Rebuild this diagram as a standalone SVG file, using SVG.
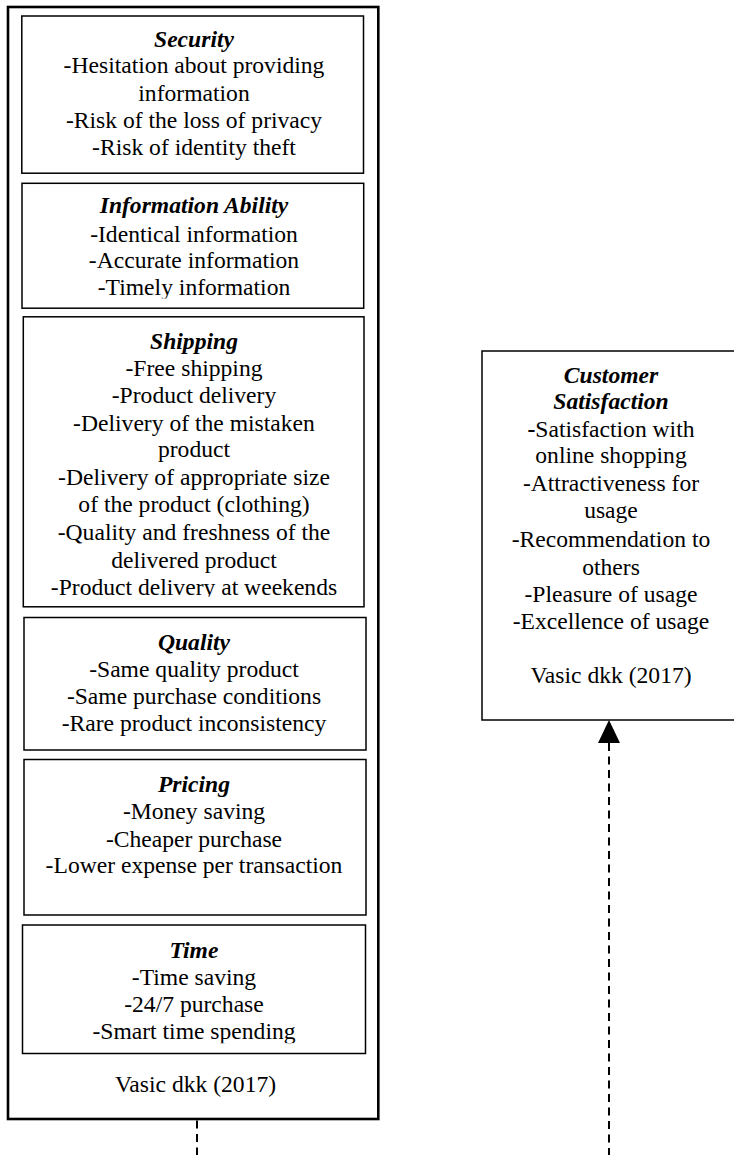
<svg xmlns="http://www.w3.org/2000/svg" width="734" height="1155" viewBox="0 0 734 1155">
  <style>
    .box { fill: #ffffff; stroke: #000000; stroke-width: 1.5; }
    .outer { fill: #ffffff; stroke: #000000; stroke-width: 2.6; }
    text { font-family: "Liberation Serif", "Times New Roman", serif; font-size: 23.6px; fill: #000000; text-anchor: middle; }
    .h { font-weight: bold; font-style: italic; }
    .conn { fill: none; stroke: #000000; stroke-width: 2; stroke-dasharray: 8 5.5; }
  </style>
  <defs>
    <marker id="arrow" markerUnits="userSpaceOnUse" markerWidth="23" markerHeight="22" viewBox="0 0 23 22" refX="0" refY="11" orient="auto-start-reverse">
      <path d="M0,0 L23,11 L0,22 z" fill="#000000"/>
    </marker>
    <clipPath id="clipInfo"><rect x="0" y="0" width="734" height="298.5"/></clipPath>
    <clipPath id="clipShip"><rect x="0" y="0" width="734" height="596.8"/></clipPath>
    <clipPath id="clipTime"><rect x="0" y="0" width="734" height="1043.3"/></clipPath>
  </defs>

  <g id="determinants">
    <rect class="outer" x="8" y="7" width="370.3" height="1112"/>
    <text x="195.5" y="1091.7">Vasic dkk (2017)</text>
  </g>

  <g id="security">
    <rect class="box" x="21.8" y="16" width="341.7" height="157.2"/>
    <text class="h" x="194" y="46.7">Security</text>
    <text x="194" y="73">-Hesitation about providing</text>
    <text x="194" y="100.5">information</text>
    <text x="194" y="127.7">-Risk of the loss of privacy</text>
    <text x="194" y="155">-Risk of identity theft</text>
  </g>

  <g id="information-ability">
    <rect class="box" x="22" y="183.3" width="341.7" height="124.9"/>
    <text class="h" x="194" y="213.3">Information Ability</text>
    <text x="194" y="241.5">-Identical information</text>
    <text x="194" y="268.3">-Accurate information</text>
    <text x="194" y="295" clip-path="url(#clipInfo)">-Timely information</text>
  </g>

  <g id="shipping">
    <rect class="box" x="23.3" y="316.8" width="340.7" height="290"/>
    <text class="h" x="194" y="349.3">Shipping</text>
    <text x="194" y="376">-Free shipping</text>
    <text x="194" y="403.3">-Product delivery</text>
    <text x="194" y="431">-Delivery of the mistaken</text>
    <text x="194" y="457.3">product</text>
    <text x="194" y="485">-Delivery of appropriate size</text>
    <text x="194" y="512.3">of the product (clothing)</text>
    <text x="194" y="540">-Quality and freshness of the</text>
    <text x="194" y="567.7">delivered product</text>
    <text x="194" y="595" clip-path="url(#clipShip)">-Product delivery at weekends</text>
  </g>

  <g id="quality">
    <rect class="box" x="24" y="617.5" width="342" height="132.5"/>
    <text class="h" x="194" y="650">Quality</text>
    <text x="194" y="677.3">-Same quality product</text>
    <text x="194" y="704.3">-Same purchase conditions</text>
    <text x="194" y="731">-Rare product inconsistency</text>
  </g>

  <g id="pricing">
    <rect class="box" x="24" y="759.5" width="342" height="155.5"/>
    <text class="h" x="194" y="792.3">Pricing</text>
    <text x="194" y="819">-Money saving</text>
    <text x="194" y="846.7">-Cheaper purchase</text>
    <text x="194" y="873.3">-Lower expense per transaction</text>
  </g>

  <g id="time">
    <rect class="box" x="22.5" y="925" width="343" height="128.5"/>
    <text class="h" x="194" y="957.7">Time</text>
    <text x="194" y="985">-Time saving</text>
    <text x="194" y="1012.3">-24/7 purchase</text>
    <text x="194" y="1039.3" clip-path="url(#clipTime)">-Smart time spending</text>
  </g>

  <g id="customer-satisfaction">
    <rect class="box" x="482" y="351" width="262" height="369"/>
    <text class="h" x="611" y="382.7">Customer</text>
    <text class="h" x="611" y="409.3">Satisfaction</text>
    <text x="611" y="436.7"><tspan font-weight="bold">-</tspan>Satisfaction with</text>
    <text x="611" y="463.3">online shopping</text>
    <text x="611" y="490.5">-Attractiveness for</text>
    <text x="611" y="517.5">usage</text>
    <text x="611" y="547.3">-Recommendation to</text>
    <text x="611" y="575">others</text>
    <text x="611" y="601.7">-Pleasure of usage</text>
    <text x="611" y="629">-Excellence of usage</text>
    <text x="611" y="682.7">Vasic dkk (2017)</text>
  </g>

  <g id="connectors">
    <path class="conn" d="M197,1120.5 L197,1160"/>
    <path class="conn" d="M609,743 L609,1160" marker-start="url(#arrow)"/>
  </g>
</svg>
